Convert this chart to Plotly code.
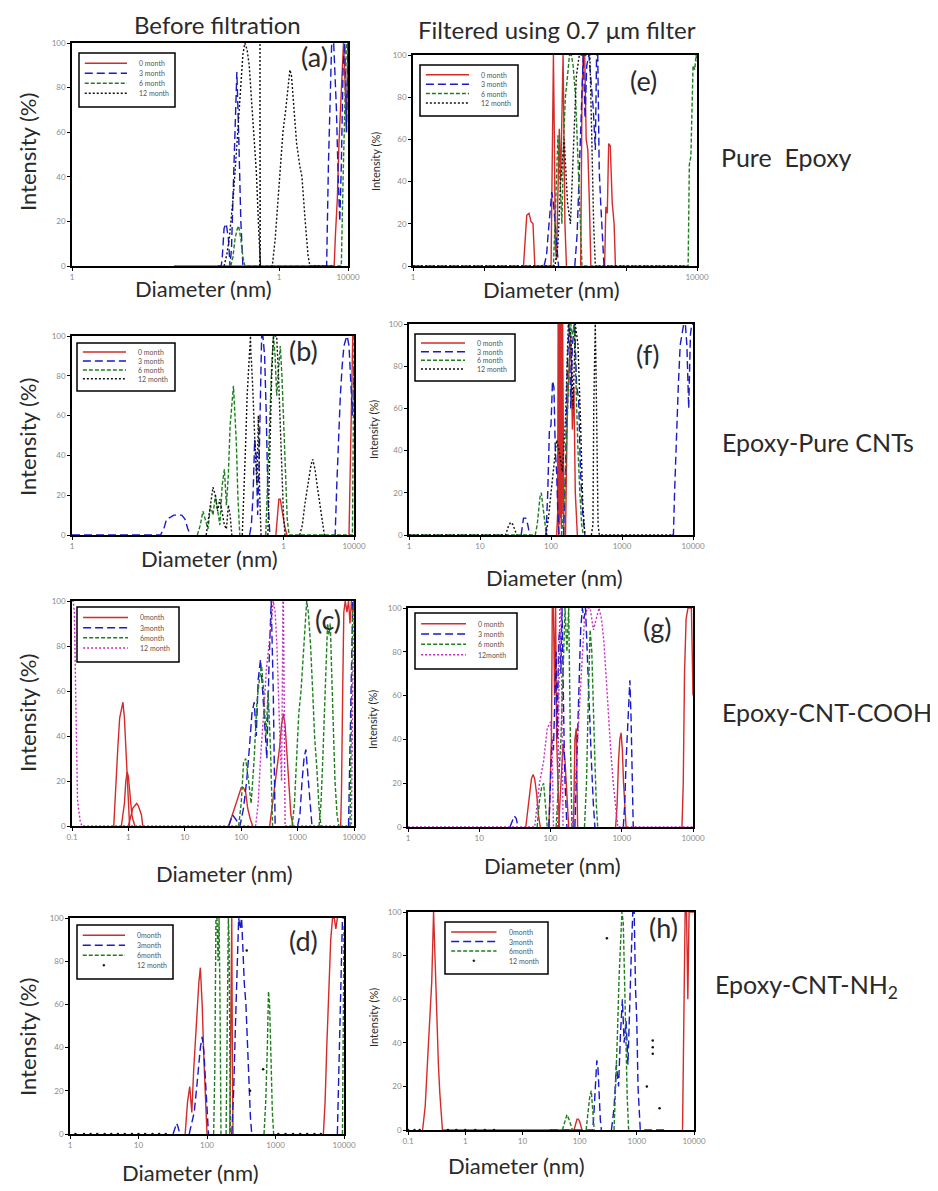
import plotly.graph_objects as go

OFF = 8  # page body margin of the exported html
W, H = 938 - OFF, 1191 - OFF

# ---------------- DATA (diameter in nm, intensity in %) ; None separates runs
# (a) before filtration - pure epoxy
A_0M_X = [30, 1000, 6300, 6600, 7000, 7400, 7800, 8200, 8600, 9000, 9500, 10000]
A_0M_Y = [0, 0, 0, 15, 30, 55, 72, 90, 100, 85, 60, 100]
A_3M_X = [130, 145, 150, 160, 172, 185, 195, 205, 215, 225, 235, 245, 260, 280, 300, 320, None,
          3000, 4900, 5200, 5500, 5800, 6200, 6800, 7200, 7600, 8000, 8500, 9000, 9500, 10000]
A_3M_Y = [0, 0, 3, 17, 19, 12, 0, 8, 30, 52, 68, 87, 60, 20, 0, 0, None,
          0, 0, 45, 78, 100, 100, 70, 40, 20, 45, 90, 100, 60, 100]
A_6M_X = [200, 215, 230, 245, 260, 280, 300, 320, 1000, 3000, 7500, 8000, 8500, 9000, 9500, 10000]
A_6M_Y = [0, 4, 12, 16, 18, 12, 4, 0, 0, 0, 0, 0, 40, 70, 100, 100]
A_12M_X = [160, 175, 190, 205, 220, 240, 260, 280, 300, 320, 345, 370, 400, 430, 470, 510, 540, None,
           525, 530, 530, 535, None,
           760, 800, 880, 970, 1060, 1140, 1250, 1370, 1440, 1520, 1600, 1800, 2000, 2150, 2400, 2630, 2800, 6000]
A_12M_Y = [0, 5, 12, 22, 33, 50, 68, 85, 95, 100, 97, 90, 75, 60, 42, 15, 0, None,
           0, 10, 100, 0, None,
           0, 0, 12, 30, 45, 60, 70, 80, 88, 85, 75, 55, 45, 40, 20, 5, 0, 0]

# (e) filtered - pure epoxy
E_0M_X = [36, 40, 43, 46, 49, 52, None,
          88, 92, 95, 98, 101, 105, 110, 115, 120, 125, 130, 134, 138, 145, None,
          230, 240, 250, 262, 275, 290, 305, 320, None,
          500, 520, 545, 570, 600, 640, 680, 710, 730]
E_0M_Y = [0, 24, 25, 21, 20, 0, None,
          0, 48, 100, 60, 10, 3, 45, 65, 40, 80, 100, 60, 20, 0, None,
          0, 80, 100, 100, 60, 55, 30, 0, None,
          0, 28, 25, 58, 57, 30, 20, 0, 0]
E_3M_X = [70, 76, 80, 85, 90, 95, 100, 106, 112, None,
          190, 205, 220, 235, 250, 265, 280, 300, 320, 345, 370, 385, 400, 420, 440, 460, 490]
E_3M_Y = [0, 5, 15, 25, 35, 30, 20, 8, 0, None,
          0, 15, 45, 80, 100, 70, 95, 100, 90, 75, 55, 100, 100, 45, 30, 15, 0]
E_6M_X = [1, 95, 100, 105, 110, 118, 125, 132, 140, 150, 160, 170, 180, 195, 210, 225, 240,
          7300, 7500, 7800, 8200, 8800, 9300, 9700, 10000]
E_6M_Y = [0, 0, 20, 45, 62, 40, 20, 60, 80, 90, 100, 100, 95, 80, 50, 20, 0,
          0, 0, 48, 52, 95, 93, 100, 97]
E_12M_X = [1, 100, 110, 120, 135, 150, 165, 180, 200, 220, 240, 260, 285, 310, 330, 350, 370, 7000]
E_12M_Y = [0, 0, 10, 40, 60, 30, 20, 50, 90, 100, 100, 100, 100, 100, 60, 20, 0, 0]

# (b) before filtration - epoxy / pure CNTs
B_0M_X = [780, 820, 860, 900, 950, 1000, 1060, 1120, None, 8500, 8800, 9200, 9600, 10000]
B_0M_Y = [0, 10, 18, 18, 12, 8, 3, 0, None, 0, 30, 80, 100, 100]
B_3M_X = [1, 18, 20, 22, 25, 28, 32, 36, 40, 44, 48, None,
          330, 350, 370, 390, 410, 430, 450, 470, 490, 510, 540, 570, 600, 640, None,
          5000, 5400, 5700, 6000, 6400, 6800, 7200, 7600, 8000, 8500, 9000, 9500, 10000]
B_3M_Y = [0, 0, 3, 8, 9, 10, 10, 10, 8, 3, 0, None,
          0, 5, 20, 48, 40, 10, 35, 70, 100, 100, 90, 60, 20, 0, None,
          0, 0, 25, 50, 70, 85, 95, 98, 100, 95, 80, 60, 85]
B_6M_X = [60, 66, 72, 78, 85, 92, 100, 108, 116, 125, 135, 145, 155, 165, 175, 185, 195, 205, 215, 225, 240, None,
          560, 600, 640, 680, 720, 760, 800, 850, 900, 950, 1000, 1060, 1130, 1200, 9500, 9800, 10000]
B_6M_Y = [0, 5, 12, 8, 3, 15, 10, 20, 12, 5, 25, 33, 15, 30, 55, 65, 75, 60, 45, 20, 0, None,
          0, 30, 60, 85, 100, 90, 70, 85, 95, 80, 60, 30, 8, 0, 0, 60, 100]
B_12M_X = [80, 86, 92, 100, 108, 116, 125, 135, 145, 155, 165, 175, 185, None,
           260, 275, 290, 305, 320, 335, 340, 345, 350, 365, 380, 400, 420, 440, 460, 480, None,
           600, 640, 680, 720, 760, 800, 850, 900, 950, 1000, 1050, None,
           1700, 1850, 2000, 2150, 2300, 2450, 2600, 2800, 3000, 3200, 3400, 3600, 3800]
B_12M_Y = [0, 8, 15, 24, 20, 12, 18, 10, 5, 3, 15, 10, 0, None,
           0, 20, 45, 70, 85, 92, 100, 90, 88, 75, 55, 40, 25, 60, 20, 0, None,
           0, 40, 80, 100, 100, 100, 80, 55, 30, 10, 0, None,
           0, 5, 15, 22, 28, 35, 38, 33, 25, 18, 10, 5, 0]

# (f) filtered - epoxy / pure CNTs
F_0M_X = [120, 124, 126, 128, 130, 132, 134, 136, 138, 140, 142, 144, 146, 148, 152, None,
          160, 170, 180, 190, 200, 210, 220, 235]
F_0M_Y = [0, 10, 100, 0, 100, 5, 100, 8, 100, 3, 100, 10, 100, 20, 0, None,
          0, 60, 80, 95, 50, 70, 20, 0]
F_3M_X = [38, 41, 44, 47, 50, None,
          85, 90, 95, 100, 105, 110, 115, 120, 125, 130, None,
          150, 160, 170, 180, 190, 200, 215, 230, 245, 260, 280, 300, None,
          5000, 5300, 5500, 5800, 6200, 6600, 7000, 7400, 7800, 8200, 8700, 9200, 9600, 10000]
F_3M_Y = [0, 8, 8, 5, 0, None,
          0, 20, 50, 52, 73, 70, 40, 30, 10, 0, None,
          0, 30, 80, 100, 60, 90, 100, 70, 65, 30, 10, 0, None,
          0, 0, 20, 45, 70, 90, 95, 100, 100, 90, 60, 95, 100, 100]
F_6M_X = [1, 60, 64, 67, 70, 73, 76, 80, 84, 88, None,
          140, 150, 160, 170, 180, 190, 200, 212, 225, 240, 255, 270, 285]
F_6M_Y = [0, 0, 5, 12, 18, 20, 15, 8, 3, 0, None,
          0, 10, 30, 60, 80, 100, 95, 100, 70, 40, 20, 5, 0]
F_12M_X = [1, 23, 25, 27, 29, 31, 33, None,
           85, 92, 100, 110, 120, 130, 145, 160, 175, 190, 205, 220, 240, 260, 280, 300, None,
           370, 390, 400, 410, 420, 430, 440, 460, 480, 5000]
F_12M_Y = [0, 0, 4, 6, 5, 2, 0, None,
           0, 8, 20, 35, 45, 40, 30, 55, 100, 95, 60, 100, 90, 55, 15, 0, None,
           0, 5, 60, 100, 100, 80, 40, 5, 0, 0]

# (c) before filtration - epoxy / CNT-COOH
C_0M_X = [0.55, 0.6, 0.65, 0.7, 0.75, 0.8, 0.85, 0.9, 0.95, 1.0, 1.05, None,
          0.75, 0.8, 0.85, 0.9, 0.95, 1.0, 1.05, 1.1, 1.15, 1.2, 1.3, None,
          1.0, 1.1, 1.2, 1.3, 1.4, 1.5, 1.6, 1.7, 1.8, None,
          60, 70, 80, 90, 100, 110, 120, 130, 145, 160, None,
          320, 360, 400, 440, 480, 520, 560, 600, 650, 700, 760, 830, None,
          5800, 6000, 6300, 6600, 7000, 7500, 8000, 8500, 9000, 9500, 10000]
C_0M_Y = [0, 20, 35, 48, 52, 55, 48, 35, 20, 5, 0, None,
          0, 5, 10, 20, 24, 22, 15, 10, 5, 3, 0, None,
          0, 5, 8, 9, 10, 9, 7, 5, 0, None,
          0, 5, 10, 14, 17, 17, 15, 8, 3, 0, None,
          0, 10, 20, 28, 35, 45, 50, 45, 30, 15, 5, 0, None,
          0, 15, 60, 95, 100, 95, 100, 90, 100, 95, 100]
C_3M_X = [60, 70, 80, 95, 110, 125, 140, 155, 170, 185, 200, 220, 240, 260, 285, 310, 340, 370, 400, None,
          1000, 1100, 1200, 1300, 1400, 1500, 1650, 1800, None,
          8000, 8500, 9000, 9500, 10000]
C_3M_Y = [0, 5, 3, 0, 8, 20, 35, 50, 55, 40, 65, 74, 60, 45, 30, 70, 100, 60, 0, None,
          0, 5, 20, 30, 34, 25, 10, 0, None,
          0, 40, 60, 100, 100]
C_6M_X = [90, 100, 110, 120, 135, 150, 170, 190, 210, 230, 250, 275, 300, 330, 360, None,
          800, 880, 960, 1050, 1150, 1250, 1350, 1450, 1550, 1700, 1850, 2000, 2200, 2400, 2600, None,
          2400, 2600, 2800, 3000, 3200, 3400, 3600, 3800, 4000, 4300, 4600, 5000, 5400, None,
          8500, 9000, 9500, 10000]
C_6M_Y = [0, 10, 28, 30, 20, 10, 30, 55, 65, 71, 60, 40, 60, 35, 0, None,
          0, 10, 30, 50, 60, 75, 90, 100, 95, 80, 60, 40, 25, 8, 0, None,
          0, 10, 30, 55, 75, 90, 85, 90, 70, 40, 20, 5, 0, None,
          0, 50, 95, 100]
C_12M_X = [0.1, 0.105, 0.11, 0.115, 0.12, 0.125, 0.13, 0.14, 0.15, 180, 200, 220, 250, 280, 310, 340, 370,
           400, 430, 470, 520, 550, 560, 600, 9000, 9500, 10000]
C_12M_Y = [100, 100, 95, 60, 30, 12, 8, 2, 0, 0, 10, 30, 50, 70, 80, 90, 100,
           95, 80, 50, 20, 100, 100, 0, 0, 60, 100]

# (g) filtered - epoxy / CNT-COOH
G_0M_X = [45, 48, 51, 54, 57, 60, 64, 68, 72, None,
          95, 100, 103, 106, 110, 114, 118, 122, 127, 133, None,
          130, 140, 150, 160, 170, 180, None,
          210, 220, 230, 240, None,
          820, 860, 900, 940, 980, 1020, 1060, 1100, 1150, None,
          7000, 7300, 7600, 8000, 8500, 9000, 9500, 10000]
G_0M_Y = [0, 8, 15, 22, 24, 22, 15, 5, 0, None,
          0, 20, 40, 100, 100, 60, 100, 40, 20, 0, None,
          0, 20, 38, 30, 15, 0, None,
          0, 40, 45, 0, None,
          0, 10, 30, 40, 43, 35, 20, 8, 0, None,
          0, 20, 70, 95, 100, 100, 100, 60]
G_3M_X = [27, 29, 31, 33, 35, None,
          95, 100, 105, 110, 115, 120, 125, 130, 135, 140, 145, 150, 155, 160, 170, None,
          220, 235, 250, 265, 280, 295, 310, 330, 350, 375, 400, 420, None,
          1050, 1100, 1150, 1200, 1250, 1300, 1350, 1400, 1450]
G_3M_Y = [0, 3, 5, 4, 0, None,
          0, 20, 40, 35, 60, 80, 40, 85, 90, 70, 100, 60, 40, 20, 0, None,
          0, 30, 60, 90, 100, 95, 100, 75, 50, 30, 10, 0, None,
          0, 10, 30, 45, 60, 67, 50, 20, 0]
G_6M_X = [65, 70, 75, 80, 85, 90, None,
          120, 130, 140, 150, 160, 170, 180, 190, 200, None,
          300, 320, 340, 360, 380, 400, 420, 440, 460]
G_6M_Y = [0, 12, 18, 20, 10, 0, None,
          0, 20, 40, 70, 100, 80, 100, 40, 0, None,
          0, 20, 60, 90, 80, 50, 30, 10, 0]
G_12M_X = [1, 60, 70, 80, 90, 100, 105, 110, None,
           125, 130, 135, 140, 145, 150, None,
           200, 220, 240, 260, 280, 300, 330, 360, 400, 440, 480, 520, 560, 600, 650, 700, 760, 820, 880, 10000]
G_12M_Y = [0, 0, 20, 30, 45, 48, 40, 0, None,
           0, 60, 100, 100, 40, 0, None,
           0, 15, 40, 60, 80, 95, 100, 100, 90, 95, 100, 95, 85, 70, 50, 35, 20, 10, 0, 0]

# (d) before filtration - epoxy / CNT-NH2
D_0M_X = [48, 52, 56, 60, 64, 68, 72, 76, 80, 85, 90, 95, 100, None,
          215, 220, 225, 230, 235, 240, None,
          5000, 5300, 5600, 6000, 6400, 6800, 7200, 7600, 8000]
D_0M_Y = [0, 15, 22, 10, 30, 45, 60, 70, 77, 60, 35, 15, 0, None,
          0, 40, 100, 100, 30, 0, None,
          0, 15, 40, 65, 90, 100, 100, 95, 100]
D_3M_X = [32, 34, 36, 38, 40, None,
          55, 60, 65, 70, 75, 80, 85, 90, 95, 100, 105, None,
          230, 245, 260, 275, 290, 305, 320, 335, 350, 370, 390, 410, 430, 450, None,
          8000, 8500, 9000, 9500, 10000]
D_3M_Y = [0, 3, 5, 3, 0, None,
          0, 5, 10, 20, 30, 40, 45, 38, 25, 10, 0, None,
          0, 20, 50, 80, 100, 95, 100, 85, 70, 60, 40, 20, 8, 0, None,
          0, 40, 80, 100, 100]
D_6M_X = [125, 130, 135, 140, 145, 150, 155, 160, None,
          190, 195, 200, 205, 210, 215, 220, None,
          680, 720, 760, 790, 820, 860, 900, 940, None,
          9500, 9800, 10000]
D_6M_Y = [0, 30, 100, 100, 80, 100, 60, 0, None,
          0, 50, 100, 100, 90, 30, 0, None,
          0, 15, 40, 66, 60, 30, 10, 0, None,
          0, 60, 97]
D_12M_X = [1.2, 1.6, 2, 2.5, 3.2, 4, 5, 6.3, 8, 10, 12.5, 16, 20, 25, 380, 425, 660,
           1100, 1400, 1800, 2300, 2900, 3700, 4600]
D_12M_Y = [0, 0, 0, 0, 0, 0, 0, 0, 0, 0, 0, 0, 0, 0, 85, 20, 30,
           0, 0, 0, 0, 0, 0, 0]

# (h) filtered - epoxy / CNT-NH2
H_0M_X = [0.18, 0.2, 0.22, 0.24, 0.26, 0.28, 0.3, 0.32, 0.34, 0.36, 0.38, 0.4, 80,
          85, 90, 95, 100, 105, 110, 115, None,
          6300, 6600, 7000, 7400, 7800, 8200, 8600, 9000, 9500, 10000]
H_0M_Y = [0, 11, 32, 48, 68, 100, 73, 50, 30, 17, 5, 0, 0,
          3, 5, 5, 4, 2, 0, 0, None,
          0, 40, 100, 100, 60, 100, 100, 100, 100, 100]
H_3M_X = [30, 170, 180, 190, 200, 210, 220, 230, 240, None,
          360, 400, 440, 480, 520, 560, 600, 650, 700, 750, 800, 850, 900, 950, 1000, 1050, 1100, 1150, 3500]
H_3M_Y = [0, 0, 10, 20, 32, 28, 15, 5, 0, None,
          0, 10, 30, 20, 45, 60, 40, 50, 30, 60, 80, 100, 100, 65, 50, 20, 5, 0, 0]
H_6M_X = [50, 55, 60, 65, 70, 75, None,
          130, 140, 150, 160, 170, 180, None,
          400, 430, 460, 490, 520, 550, 580, 610, 640, 680, 720]
H_6M_Y = [0, 4, 7, 5, 2, 0, None,
          0, 8, 15, 18, 10, 0, None,
          0, 20, 45, 70, 90, 100, 95, 70, 40, 15, 0]
H_12M_X = [0.1, 0.13, 0.16, 0.5, 0.7, 1.0, 1.5, 2.2, 3.2, 300, 1500, 1900, 1900, 1900, 2500]
H_12M_Y = [0, 0, 0, 0, 0, 0, 0, 0, 0, 88, 20, 35, 38, 41, 10]

# legend labels
LEG_A = ["0 month", "3 month", "6 month", "12 month"]
LEG_E = ["0 month", "3 month", "6 month", "12 month"]
LEG_B = ["0 month", "3 month", "6 month", "12 month"]
LEG_F = ["0 month", "3 month", "6 month", "12 month"]
LEG_C = ["0month", "3month", "6month", "12 month"]
LEG_G = ["0 month", "3 month", "6 month", "12month"]
LEG_D = ["0month", "3month", "6month", "12 month"]
LEG_H = ["0month", "3month", "6month", "12 month"]

# tick labels
TV_4 = [1, 10, 100, 1000, 10000]
TT_4 = ["1", "10", "100", "1000", "10000"]
TV_5 = [0.1, 1, 10, 100, 1000, 10000]
TT_5 = ["0.1", "1", "10", "100", "1000", "10000"]
TV_AB = [1, 1000, 10000]
TT_AB = ["1", "1", "10000"]
TV_E = [1, 10000]
TT_E = ["1", "10000"]
MINOR_E = [10, 100, 1000]
Y_TICKS = [0, 20, 40, 60, 80, 100]

# ---------------- layout geometry (target pixels in the photographed page)
panels = [
    dict(k="a", data=[(A_0M_X, A_0M_Y), (A_3M_X, A_3M_Y), (A_6M_X, A_6M_Y), (A_12M_X, A_12M_Y)], leg=LEG_A,
         box=(72, 348, 43, 266), rng=[0, 4], tv=TV_AB, tt=TT_AB, minor=None, lab=(314, 56), xt=(203, 288),
         yt=(27, 152), ys=22, lg=(79, 53, 175, 107), dots=False, mag=False),
    dict(k="e", data=[(E_0M_X, E_0M_Y), (E_3M_X, E_3M_Y), (E_6M_X, E_6M_Y), (E_12M_X, E_12M_Y)], leg=LEG_E,
         box=(413, 697, 55, 266), rng=[0, 4], tv=TV_E, tt=TT_E, minor=MINOR_E, lab=(643, 80), xt=(551, 290),
         yt=(375, 162), ys=11, lg=(420, 65, 518, 116), dots=False, mag=False),
    dict(k="b", data=[(B_0M_X, B_0M_Y), (B_3M_X, B_3M_Y), (B_6M_X, B_6M_Y), (B_12M_X, B_12M_Y)], leg=LEG_B,
         box=(72, 354, 336, 535), rng=[0, 4], tv=TV_AB, tt=TT_AB, minor=None, lab=(303, 351), xt=(209, 558),
         yt=(27, 437), ys=22, lg=(77, 343, 175, 391), dots=False, mag=False),
    dict(k="f", data=[(F_0M_X, F_0M_Y), (F_3M_X, F_3M_Y), (F_6M_X, F_6M_Y), (F_12M_X, F_12M_Y)], leg=LEG_F,
         box=(409, 693, 324, 535), rng=[0, 4], tv=TV_4, tt=TT_4, minor=None, lab=(648, 354), xt=(554, 577),
         yt=(373, 430), ys=11, lg=(415, 334, 515, 381), dots=False, mag=False),
    dict(k="c", data=[(C_0M_X, C_0M_Y), (C_3M_X, C_3M_Y), (C_6M_X, C_6M_Y), (C_12M_X, C_12M_Y)], leg=LEG_C,
         box=(72, 354, 601, 826), rng=[-1, 4], tv=TV_5, tt=TT_5, minor=None, lab=(328, 619), xt=(224, 873),
         yt=(27, 713), ys=22, lg=(77, 607, 179, 662), dots=False, mag=True),
    dict(k="g", data=[(G_0M_X, G_0M_Y), (G_3M_X, G_3M_Y), (G_6M_X, G_6M_Y), (G_12M_X, G_12M_Y)], leg=LEG_G,
         box=(408, 693, 608, 827), rng=[0, 4], tv=TV_4, tt=TT_4, minor=None, lab=(657, 627), xt=(552, 865),
         yt=(372, 720), ys=11, lg=(415, 613, 517, 669), dots=False, mag=True),
    dict(k="d", data=[(D_0M_X, D_0M_Y), (D_3M_X, D_3M_Y), (D_6M_X, D_6M_Y), (D_12M_X, D_12M_Y)], leg=LEG_D,
         box=(70, 344, 918, 1134), rng=[0, 4], tv=TV_4, tt=TT_4, minor=None, lab=(303, 940), xt=(190, 1172),
         yt=(27, 1037), ys=22, lg=(77, 925, 173, 979), dots=True, mag=False),
    dict(k="h", data=[(H_0M_X, H_0M_Y), (H_3M_X, H_3M_Y), (H_6M_X, H_6M_Y), (H_12M_X, H_12M_Y)], leg=LEG_H,
         box=(408, 694, 912, 1130), rng=[-1, 4], tv=TV_5, tt=TT_5, minor=None, lab=(663, 927), xt=(516, 1165),
         yt=(373, 1018), ys=11, lg=(445, 922, 548, 974), dots=True, mag=False),
]

RED, BLUE, GREEN, BLACK, MAG = "#d42a2a", "#1a1ac8", "#1f7f1f", "#111111", "#c42cc4"
FONT = "Lato, 'Open Sans', sans-serif"
TXT = "#2a2a2a"


def px_x(p):
    return (p - OFF) / W


def px_y(p):
    return 1 - (p - OFF) / H


def note(x, y, text, size, **kw):
    d = dict(x=px_x(x), y=px_y(y), xref="paper", yref="paper", text=text, showarrow=False,
             xanchor="center", yanchor="middle", font=dict(size=size, color=TXT))
    d.update(kw)
    return d


fig = go.Figure()
annotations = []
shapes = []
layout = dict(width=W, height=H, margin=dict(l=0, r=0, t=0, b=0, autoexpand=False), paper_bgcolor="white",
              plot_bgcolor="white", showlegend=False, font=dict(family=FONT, color=TXT))

for i, p in enumerate(panels, start=1):
    sfx = "" if i == 1 else str(i)
    xa, ya = "x" + sfx, "y" + sfx
    l, r, t, b = p["box"]
    styles = [
        dict(color=RED, dash="solid"),
        dict(color=BLUE, dash="8px,4px"),
        dict(color=GREEN, dash="4px,2px"),
        dict(color=MAG if p["mag"] else BLACK, dash="2px,2px"),
    ]
    for j, ((xs, ys), name) in enumerate(zip(p["data"], p["leg"])):
        if j == 3 and p["dots"]:
            fig.add_trace(go.Scatter(x=xs, y=ys, mode="markers", name=name, xaxis=xa, yaxis=ya,
                                     marker=dict(color=BLACK, size=2.5)))
        else:
            fig.add_trace(go.Scatter(x=xs, y=ys, mode="lines", name=name, xaxis=xa, yaxis=ya,
                                     line=dict(color=styles[j]["color"], dash=styles[j]["dash"], width=1.4),
                                     connectgaps=False))
    xax = dict(type="log", range=p["rng"], domain=[px_x(l), px_x(r)], anchor=ya, automargin=False,
               showline=True, linecolor="black", linewidth=1.5, mirror=True,
               showgrid=False, zeroline=False, ticks="outside", ticklen=3, tickcolor="black",
               tickvals=p["tv"], ticktext=p["tt"], tickfont=dict(size=8, color="#8a8a8a"))
    if p["minor"]:
        xax["minor"] = dict(tickvals=p["minor"], ticks="outside", ticklen=3, tickcolor="black", showgrid=False)
    layout["xaxis" + sfx] = xax
    layout["yaxis" + sfx] = dict(range=[0, 100], domain=[px_y(b), px_y(t)], anchor=xa, automargin=False,
                                 showline=True, linecolor="black", linewidth=1.5, mirror=True,
                                 showgrid=False, zeroline=False, ticks="outside", ticklen=3, tickcolor="black",
                                 tickvals=Y_TICKS, tickfont=dict(size=8, color="#8a8a8a"))

    # legend box drawn inside the panel
    ll, lt, lr, lb = p["lg"]
    lw, lh = lr - ll, lb - lt
    shapes.append(dict(type="rect", xref="paper", yref="paper", x0=px_x(ll), x1=px_x(lr),
                       y0=px_y(lb), y1=px_y(lt), line=dict(color="black", width=1.5),
                       fillcolor="white", layer="above"))
    for j, name in enumerate(p["leg"]):
        yy = lt + lh * (0.19 + 0.185 * j)
        if j == 3 and p["dots"]:
            cx = ll + lw * 0.28
            shapes.append(dict(type="circle", xref="paper", yref="paper", x0=px_x(cx - 1), x1=px_x(cx + 1),
                               y0=px_y(yy + 1), y1=px_y(yy - 1), line=dict(color=BLACK, width=0.5),
                               fillcolor=BLACK, layer="above"))
        else:
            shapes.append(dict(type="line", xref="paper", yref="paper", x0=px_x(ll + lw * 0.06),
                               x1=px_x(ll + lw * 0.5), y0=px_y(yy), y1=px_y(yy),
                               line=dict(color=styles[j]["color"], dash=styles[j]["dash"], width=1.5),
                               layer="above"))
        annotations.append(note(ll + lw * 0.6, yy, name, 7, xanchor="left",
                                font=dict(size=7, color="#555555")))

    annotations.append(note(p["lab"][0], p["lab"][1], "(" + p["k"] + ")", 27))
    annotations.append(note(p["xt"][0], p["xt"][1], "Diameter (nm)", 22))
    annotations.append(note(p["yt"][0], p["yt"][1], "Intensity (%)", p["ys"], textangle=-90))

# column titles and row labels
annotations += [
    note(217, 24, "Before filtration", 24),
    note(557, 30, "Filtered using 0.7 \u03bcm filter", 24),
    note(786, 157, "Pure  Epoxy", 25),
    note(818, 442, "Epoxy-Pure CNTs", 25),
    note(827, 712, "Epoxy-CNT-COOH", 25),
    note(806, 986, "Epoxy-CNT-NH<sub>2</sub>", 25),
]

layout["annotations"] = annotations
layout["shapes"] = shapes
fig.update_layout(**layout)
fig.write_html("out.html")
